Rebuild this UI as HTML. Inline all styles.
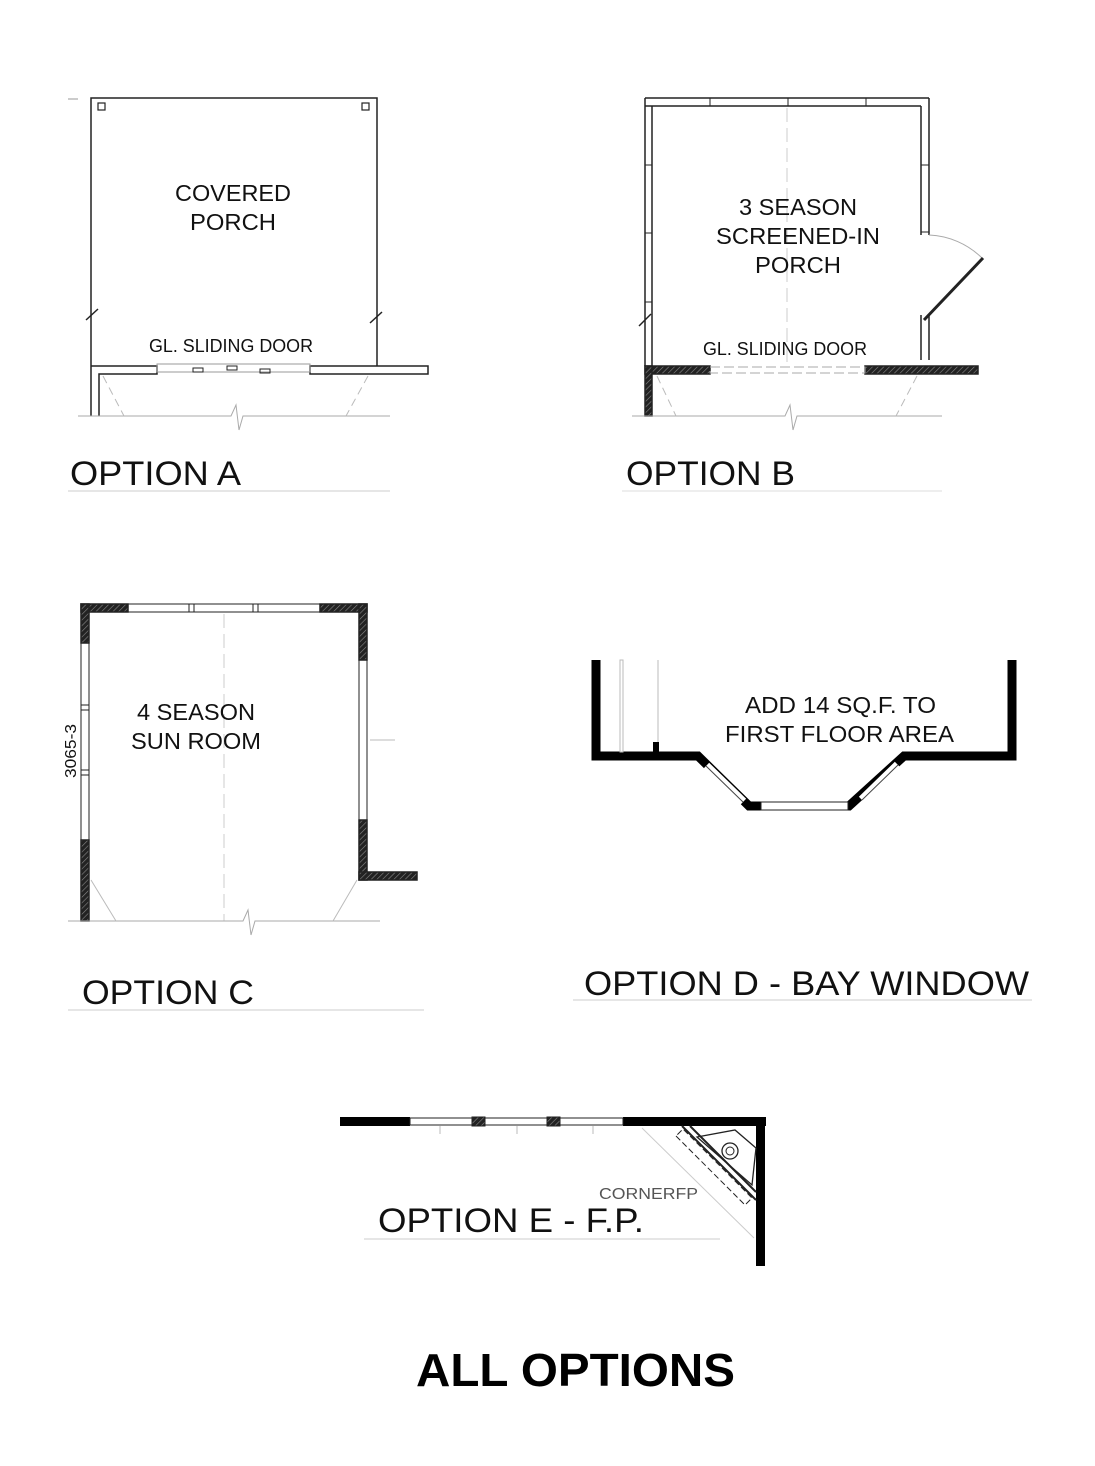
<!DOCTYPE html>
<html><head><meta charset="utf-8"><style>
html,body{margin:0;padding:0;background:#fff;}
svg{display:block;}
text{font-family:"Liberation Sans",sans-serif;fill:#111;}
</style></head><body>
<svg width="1095" height="1466" viewBox="0 0 1095 1466" xmlns="http://www.w3.org/2000/svg">
<defs>
<pattern id="h" width="4" height="4" patternUnits="userSpaceOnUse" patternTransform="rotate(45)">
<rect width="4" height="4" fill="#222"/><line x1="0" y1="0" x2="0" y2="4" stroke="#888" stroke-width="1.2"/>
</pattern>
</defs>
<g fill="none" stroke="#222" stroke-width="1.5">
<!-- OPTION A -->
<line x1="68" y1="99" x2="78" y2="99" stroke="#bbb"/>
<path d="M91 416 V98 H377 V366"/>
<path d="M91 366 H157 V374 H99 V416"/>
<path d="M310 366 H428 V374 H310 Z"/>
<rect x="157" y="364" width="153" height="8" stroke="#999" stroke-width="1"/>
<rect x="193" y="368" width="10" height="4" stroke-width="1"/>
<rect x="227" y="366" width="10" height="4" stroke-width="1"/>
<rect x="260" y="369" width="10" height="4" stroke-width="1"/>
<rect x="98" y="103" width="7" height="7" stroke-width="1.2"/>
<rect x="362" y="103" width="7" height="7" stroke-width="1.2"/>
<line x1="86" y1="320" x2="98" y2="309"/>
<line x1="370" y1="323" x2="382" y2="312"/>
<path d="M78 416 H231 L236 405 L239 430 L243 416 H390" stroke="#aaa" stroke-width="1"/>
<path d="M103 376 L124 416 M368 376 L346 416" stroke="#bbb" stroke-dasharray="8 5" stroke-width="1"/>
<!-- OPTION B -->
<path d="M645 98 H929 M645 106 H921 M645 98 V366 M652 106 V366 M921 106 V235 M929 98 V235 M921 315 V360 M929 315 V360" />
<path d="M710 98 V106 M788 98 V106 M866 98 V106 M645 165 H652 M645 233 H652 M645 302 H652 M921 165 H929 M921 232 H929" stroke-width="1"/>
<line x1="787" y1="108" x2="787" y2="366" stroke="#ccc" stroke-dasharray="14 6" stroke-width="1"/>
<path d="M929 235 A80 80 0 0 1 982 258" stroke="#aaa" stroke-width="1"/>
<line x1="924" y1="320" x2="983" y2="258" stroke-width="3"/>
<line x1="639" y1="326" x2="651" y2="314"/>
<rect x="645" y="366" width="65" height="8" fill="url(#h)"/>
<rect x="645" y="366" width="7" height="50" fill="url(#h)"/>
<rect x="865" y="366" width="113" height="8" fill="url(#h)"/>
<rect x="710" y="367" width="155" height="6" stroke="#aaa" stroke-dasharray="10 4" stroke-width="1"/>
<path d="M632 416 H785 L790 405 L793 430 L797 416 H942" stroke="#aaa" stroke-width="1"/>
<path d="M657 376 L676 416 M917 376 L896 416" stroke="#bbb" stroke-dasharray="8 5" stroke-width="1"/>
<!-- OPTION C -->
<rect x="81" y="604" width="47" height="8" fill="url(#h)"/>
<rect x="81" y="604" width="8" height="39" fill="url(#h)"/>
<rect x="81" y="840" width="8" height="81" fill="url(#h)"/>
<rect x="320" y="604" width="47" height="8" fill="url(#h)"/>
<rect x="359" y="604" width="8" height="56" fill="url(#h)"/>
<rect x="359" y="820" width="8" height="60" fill="url(#h)"/>
<rect x="359" y="872" width="58" height="8" fill="url(#h)"/>
<rect x="128" y="604" width="192" height="8" stroke-width="1"/>
<rect x="81" y="643" width="8" height="197" stroke-width="1"/>
<rect x="359" y="660" width="8" height="160" stroke-width="1"/>
<path d="M189 604 V612 M194 604 V612 M253 604 V612 M258 604 V612 M81 705 H89 M81 710 H89 M81 770 H89 M81 775 H89" stroke-width="1"/>
<line x1="224" y1="614" x2="224" y2="921" stroke="#ccc" stroke-dasharray="14 6" stroke-width="1"/>
<path d="M68 921 H243 L248 910 L251 935 L255 921 H380" stroke="#aaa" stroke-width="1"/>
<path d="M91 880 L116 921 M357 880 L333 921" stroke="#bbb" stroke-width="1"/>
<line x1="370" y1="740" x2="395" y2="740" stroke="#bbb" stroke-width="1"/>
<!-- OPTION D -->
<path d="M596 660 V756 H698 L749 806 H849 L904 756 H1012 V660" stroke="#000" stroke-width="9" stroke-linejoin="miter"/>
<rect x="620" y="660" width="3" height="92" stroke="#bbb" stroke-width="1"/>
<line x1="656" y1="742" x2="656" y2="752" stroke="#000" stroke-width="6"/>
<line x1="658" y1="660" x2="658" y2="742" stroke="#bbb" stroke-width="1"/>
<line x1="706" y1="766" x2="743" y2="802" stroke="#fff" stroke-width="9"/>
<line x1="706" y1="766" x2="743" y2="802" stroke="#444" stroke-width="1"/>
<line x1="862" y1="800" x2="898" y2="765" stroke="#fff" stroke-width="9"/>
<line x1="862" y1="800" x2="898" y2="765" stroke="#444" stroke-width="1"/>
<rect x="761" y="802" width="87" height="8" fill="#fff" stroke-width="1"/>
<!-- OPTION E -->
<rect x="340" y="1117" width="70" height="9" fill="#000" stroke="none"/>
<rect x="623" y="1117" width="143" height="9" fill="#000" stroke="none"/>
<rect x="756" y="1117" width="9" height="149" fill="#000" stroke="none"/>
<rect x="410" y="1118" width="213" height="7" stroke-width="1"/>
<rect x="472" y="1117" width="13" height="9" fill="url(#h)" stroke-width="1"/>
<rect x="547" y="1117" width="13" height="9" fill="url(#h)" stroke-width="1"/>
<path d="M440 1126 V1134 M517 1126 V1134 M593 1126 V1134" stroke="#bbb" stroke-width="1"/>
<line x1="642" y1="1128" x2="754" y2="1238" stroke="#ccc" stroke-width="1"/>
<path d="M682 1126 L756 1200 M690 1126 L756 1192" stroke-width="2"/>
<path d="M676 1136 L745 1205 L752 1198 L683 1129 Z" stroke-dasharray="6 3" stroke-width="1"/>
<path d="M697 1137 L735 1130 L756 1148 L752 1185 Z" stroke-width="1.3"/>
<circle cx="730" cy="1151" r="8" stroke-width="1.3"/>
<circle cx="730" cy="1151" r="4" stroke-width="1"/>
<line x1="364" y1="1239" x2="720" y2="1239" stroke="#ccc" stroke-width="1"/>
<!-- underlines -->
<line x1="68" y1="491" x2="390" y2="491" stroke="#ccc" stroke-width="1"/>
<line x1="622" y1="491" x2="942" y2="491" stroke="#ddd" stroke-width="1"/>
<line x1="68" y1="1010" x2="424" y2="1010" stroke="#ccc" stroke-width="1"/>
<line x1="573" y1="1000" x2="1032" y2="1000" stroke="#ccc" stroke-width="1"/>
</g>
<g font-size="23" lengthAdjust="spacingAndGlyphs">
<text x="175" y="201" textLength="116" lengthAdjust="spacingAndGlyphs">COVERED</text>
<text x="190" y="230" textLength="86" lengthAdjust="spacingAndGlyphs">PORCH</text>
<text x="739" y="215" textLength="118" lengthAdjust="spacingAndGlyphs">3 SEASON</text>
<text x="716" y="244" textLength="164" lengthAdjust="spacingAndGlyphs">SCREENED-IN</text>
<text x="755" y="273" textLength="86" lengthAdjust="spacingAndGlyphs">PORCH</text>
<text x="137" y="720" textLength="118" lengthAdjust="spacingAndGlyphs">4 SEASON</text>
<text x="131" y="749" textLength="130" lengthAdjust="spacingAndGlyphs">SUN ROOM</text>
<text x="745" y="713" textLength="191" lengthAdjust="spacingAndGlyphs">ADD 14 SQ.F. TO</text>
<text x="725" y="742" textLength="229" lengthAdjust="spacingAndGlyphs">FIRST FLOOR AREA</text>
</g>
<g font-size="18">
<text x="149" y="352" textLength="164" lengthAdjust="spacingAndGlyphs">GL. SLIDING DOOR</text>
<text x="703" y="355" textLength="164" lengthAdjust="spacingAndGlyphs">GL. SLIDING DOOR</text>
</g>
<text x="0" y="0" font-size="16" transform="translate(76,778) rotate(-90)" textLength="54" lengthAdjust="spacingAndGlyphs">3065-3</text>
<text x="599" y="1199" font-size="16" style="fill:#555" textLength="99" lengthAdjust="spacingAndGlyphs">CORNERFP</text>
<g font-size="34">
<text x="70" y="485" textLength="171" lengthAdjust="spacingAndGlyphs">OPTION A</text>
<text x="626" y="485" textLength="169" lengthAdjust="spacingAndGlyphs">OPTION B</text>
<text x="82" y="1004" textLength="172" lengthAdjust="spacingAndGlyphs">OPTION C</text>
<text x="584" y="995" textLength="445" lengthAdjust="spacingAndGlyphs">OPTION D - BAY WINDOW</text>
<text x="378" y="1232" textLength="266" lengthAdjust="spacingAndGlyphs">OPTION E - F.P.</text>
</g>
<text x="416" y="1386" font-size="46" font-weight="bold" style="fill:#000" textLength="319" lengthAdjust="spacingAndGlyphs">ALL OPTIONS</text>
</svg>
</body></html>
